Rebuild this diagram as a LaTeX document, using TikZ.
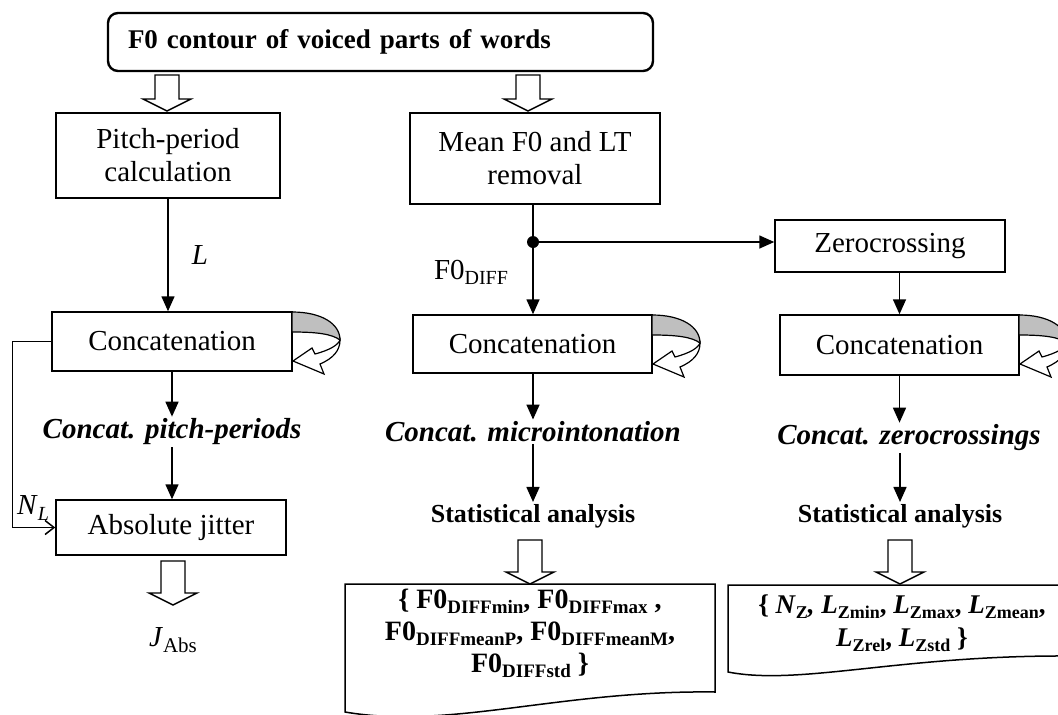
\documentclass[tikz,border=0pt]{standalone}
\usepackage{fontspec}
\setmainfont{Liberation Serif}
\usetikzlibrary{arrows.meta,calc}
\newcommand\fs[1]{\fontsize{#1}{#1}\selectfont}
\newcommand\sbs[1]{\raisebox{-5pt}{\fs{19}#1}}
\newcommand\blockarrow[3]{%
  \draw[hollowarrow] (#1-12,#2) -- (#1+12,#2) -- (#1+12,#3-12) -- (#1+24,#3-12) -- (#1,#3) -- (#1-24,#3-12) -- (#1-12,#3-12) -- cycle;}
\newcommand\looparrow[2]{%
  \draw[line width=1.2pt,fill=black!25] (#1,#2) .. controls (#1+30,#2) and (#1+48,#2+12) .. (#1+48,#2+28)
     .. controls (#1+40,#2+22) and (#1+25,#2+20) .. (#1,#2+20) -- cycle;
  \draw[line width=1.2pt,fill=white] (#1+48,#2+28) .. controls (#1+48,#2+38) and (#1+42,#2+46) .. (#1+28,#2+52)
     -- (#1+32,#2+62) -- (#1+1,#2+49) -- (#1+20,#2+36) -- (#1+23,#2+42)
     .. controls (#1+38,#2+38) and (#1+46,#2+33) .. (#1+48,#2+28) -- cycle;}
\begin{document}
\begin{tikzpicture}[x=1pt,y=-1pt,
  box/.style={draw,line width=1.5pt,inner sep=0pt,align=center,font=\fontsize{29}{33}\selectfont},
  lbl/.style={inner sep=1pt,font=\fs{29}},
  ctext/.style={inner sep=2pt,font=\fs{29}\bfseries\itshape},
  stext/.style={inner sep=2pt,font=\fs{26}\bfseries},
  dline/.style={inner sep=0pt,anchor=base,font=\fs{28}\bfseries},
  arr/.style={line width=1.6pt,-{Triangle[length=15pt,width=13pt]}},
  hollowarrow/.style={line width=1.4pt,fill=white,line join=miter},
  doc/.style={line width=1.5pt}]
\useasboundingbox (0,0) rectangle (1058,715);

% title
\node[draw,rounded corners=10pt,line width=2.4pt,minimum height=58pt,text width=505pt,inner xsep=20pt,inner ysep=0pt,align=left,font=\fs{27}\bfseries] (title) at (380.5,42) {F0 contour of voiced parts of words};
\blockarrow{167}{75}{111}
\blockarrow{528}{75}{111}

% boxes
\node[box,minimum width=224pt,minimum height=85pt] (pitch) at (168,155.5) {Pitch-period\\calculation};
\node[box,minimum width=250pt,minimum height=91pt] (mean) at (535,158.5) {Mean F0 and LT\\removal};
\node[box,minimum width=230pt,minimum height=52pt] (zero) at (890,246) {Zerocrossing};
\node[box,minimum width=240pt,minimum height=59pt] (cc1) at (172,341.5) {Concatenation};
\node[box,minimum width=239pt,minimum height=58pt] (cc2) at (532.5,344) {Concatenation};
\node[box,minimum width=239pt,minimum height=60pt] (cc3) at (899.5,345) {Concatenation};
\node[box,minimum width=230pt,minimum height=55pt] (jit) at (171,527.5) {Absolute jitter};

% loops
\looparrow{292}{312}
\looparrow{652}{315}
\looparrow{1019}{315}

% left column
\draw[arr] (pitch.south) -- (pitch.south |- cc1.north);
\node[lbl,font=\fs{29}\itshape] (Llab) at (200,255) {L};
\node[ctext] (ct1) at (172,432) {Concat. pitch-periods};
\draw[arr] (cc1.south) -- (ct1.north);
\draw[arr] (ct1.south) -- (ct1.south |- jit.north);
\draw[line width=1.5pt,-{Straight Barb[length=9pt,width=14pt]}] (cc1.west) -- ++(-39,0) |- (jit.west);
\node[lbl] (NL) at (33,508) {\textit{N}\raisebox{-6pt}{\fs{20}\itshape L}};
\blockarrow{173}{561}{605}
\node[lbl] (jabs) at (173,640) {\textit{J}\raisebox{-6pt}{\fs{21}Abs}};

% middle column
\coordinate (dot) at (533,242);
\draw[line width=1.6pt] (mean.south -| dot) -- (dot);
\draw[arr] (dot) -- (dot -| zero.west);
\draw[arr] (dot) -- (dot |- cc2.north);
\fill (dot) circle (6pt);
\node[lbl] (f0d) at (471,272) {F0\raisebox{-5pt}{\fs{20}DIFF}};
\node[ctext] (ct2) at (533,432) {Concat. microintonation};
\draw[arr] (cc2.south -| ct2.north) -- (ct2.north);
\node[stext] (st2) at (533,516) {Statistical analysis};
\draw[arr] (ct2.south) -- (st2.north);
\blockarrow{530}{540}{584}
\draw[doc] (345,584) -- (715,584) -- (715,692) .. controls (560,690) and (450,730) .. (345,712) -- cycle;
\node[dline] (d2a) at (530,608) {\{ F0\sbs{DIFFmin}, F0\sbs{DIFFmax} ,};
\node[dline] (d2b) at (530,640) {F0\sbs{DIFFmeanP}, F0\sbs{DIFFmeanM},};
\node[dline] (d2c) at (530,672) {F0\sbs{DIFFstd} \}};

% right column
\draw[arr] (zero.south -| cc3.north) -- (cc3.north);
\node[ctext] (ct3) at (909,438) {Concat. zerocrossings};
\draw[arr] (cc3.south) -- (cc3.south |- ct3.north);
\node[stext] (st3) at (900,516) {Statistical analysis};
\draw[arr] (ct3.south -| st3.north) -- (st3.north);
\blockarrow{900}{540}{584}
\draw[doc] (1070,585) -- (728,585) -- (728,672) .. controls (800,686) and (900,655) .. (1070,656);
\node[dline,font=\fs{27}\bfseries] (d3a) at (902,613) {\{ \textit{N}\raisebox{-5pt}{\fs{18}Z}\textit{,} \textit{L}\raisebox{-5pt}{\fs{18}Zmin}, \textit{L}\raisebox{-5pt}{\fs{18}Zmax}, \textit{L}\raisebox{-5pt}{\fs{18}Zmean},};
\node[dline,font=\fs{27}\bfseries] (d3b) at (902,646) {\textit{L}\raisebox{-5pt}{\fs{18}Zrel}, \textit{L}\raisebox{-5pt}{\fs{18}Zstd} \}};
\end{tikzpicture}
\end{document}
